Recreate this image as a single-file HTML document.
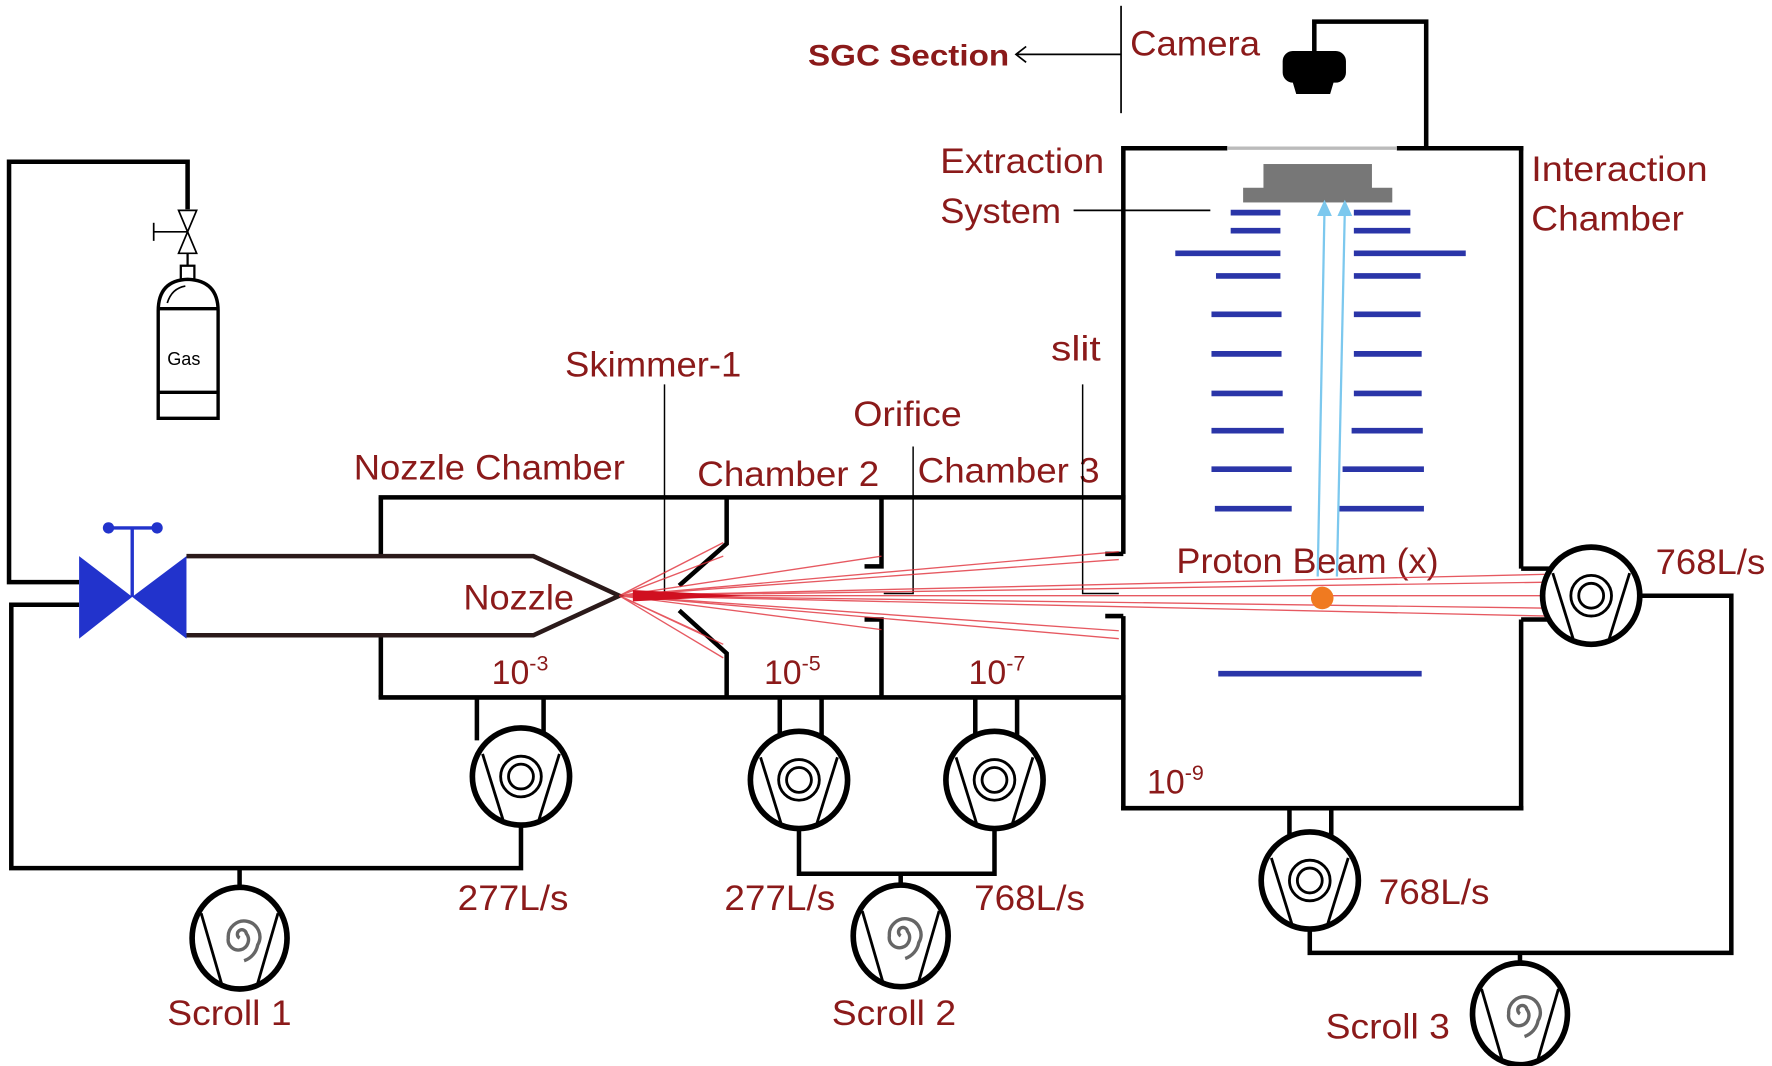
<!DOCTYPE html>
<html><head><meta charset="utf-8"><style>
html,body{margin:0;padding:0;background:#fff;}
svg{display:block;}
text{font-family:"Liberation Sans",sans-serif;fill:#8b1a1a;}
</style></head><body>
<svg width="1772" height="1066" viewBox="0 0 1568 943" xmlns="http://www.w3.org/2000/svg">
<defs>
<g id="turbo">
<circle r="43" fill="#fff" stroke="#000" stroke-width="5"/>
<line x1="-34" y1="-20" x2="-16" y2="38" stroke="#000" stroke-width="2.5"/>
<line x1="34" y1="-20" x2="16" y2="38" stroke="#000" stroke-width="2.5"/>
<circle r="18" fill="none" stroke="#000" stroke-width="2.5"/>
<circle r="11" fill="none" stroke="#000" stroke-width="2.5"/>
</g>
<g id="scroll">
<ellipse rx="42" ry="45" fill="#fff" stroke="#000" stroke-width="5"/>
<line x1="-34" y1="-22" x2="-16" y2="40" stroke="#000" stroke-width="2.5"/>
<line x1="34" y1="-22" x2="16" y2="40" stroke="#000" stroke-width="2.5"/>
<path d="M0,0 a4,4 0 1,1 6,-4 a9,9 0 1,1 -16,4 a14,14 0 1,1 26,6 a18,18 0 0,1 -12,14" fill="none" stroke="#666" stroke-width="3"/>
</g>
</defs>
<g lengthAdjust="spacingAndGlyphs">
<text x="715" y="58" font-size="26" font-weight="bold" textLength="178" lengthAdjust="spacingAndGlyphs">SGC Section</text>
<text x="1000" y="49" font-size="31" textLength="115" lengthAdjust="spacingAndGlyphs">Camera</text>
<text x="832" y="153" font-size="31" textLength="145" lengthAdjust="spacingAndGlyphs">Extraction</text>
<text x="832" y="197" font-size="31" textLength="107" lengthAdjust="spacingAndGlyphs">System</text>
<text x="1355" y="160" font-size="31" textLength="156" lengthAdjust="spacingAndGlyphs">Interaction</text>
<text x="1355" y="204" font-size="31" textLength="135" lengthAdjust="spacingAndGlyphs">Chamber</text>
<text x="1041" y="507" font-size="31" textLength="232" lengthAdjust="spacingAndGlyphs">Proton Beam (x)</text>
<text x="313" y="424" font-size="31" textLength="240" lengthAdjust="spacingAndGlyphs">Nozzle Chamber</text>
<text x="617" y="430" font-size="31" textLength="161" lengthAdjust="spacingAndGlyphs">Chamber 2</text>
<text x="812" y="427" font-size="31" textLength="161" lengthAdjust="spacingAndGlyphs">Chamber 3</text>
<text x="755" y="377" font-size="31" textLength="96" lengthAdjust="spacingAndGlyphs">Orifice</text>
<text x="500" y="333" font-size="31" textLength="156" lengthAdjust="spacingAndGlyphs">Skimmer-1</text>
<text x="930" y="319" font-size="31" textLength="44" lengthAdjust="spacingAndGlyphs">slit</text>
<text x="410" y="539" font-size="31" textLength="98" lengthAdjust="spacingAndGlyphs">Nozzle</text>
<text x="1465" y="508" font-size="31" textLength="97" lengthAdjust="spacingAndGlyphs">768L/s</text>
<text x="405" y="805" font-size="31" textLength="98" lengthAdjust="spacingAndGlyphs">277L/s</text>
<text x="641" y="805" font-size="31" textLength="98" lengthAdjust="spacingAndGlyphs">277L/s</text>
<text x="862" y="805" font-size="31" textLength="98" lengthAdjust="spacingAndGlyphs">768L/s</text>
<text x="1220" y="800" font-size="31" textLength="98" lengthAdjust="spacingAndGlyphs">768L/s</text>
<text x="148" y="907" font-size="31" textLength="110" lengthAdjust="spacingAndGlyphs">Scroll 1</text>
<text x="736" y="907" font-size="31" textLength="110" lengthAdjust="spacingAndGlyphs">Scroll 2</text>
<text x="1173" y="919" font-size="31" textLength="110" lengthAdjust="spacingAndGlyphs">Scroll 3</text>
</g>
<text x="435" y="605" font-size="30">10<tspan font-size="19" dy="-12">-3</tspan></text>
<text x="676" y="605" font-size="30">10<tspan font-size="19" dy="-12">-5</tspan></text>
<text x="857" y="605" font-size="30">10<tspan font-size="19" dy="-12">-7</tspan></text>
<text x="1015" y="702" font-size="30">10<tspan font-size="19" dy="-12">-9</tspan></text>

<line x1="992" y1="48" x2="900" y2="48" stroke="#000" stroke-width="1.5"/>
<path d="M908,41 L899,48 L908,55" fill="none" stroke="#000" stroke-width="1.5"/>
<line x1="992" y1="5" x2="992" y2="100" stroke="#000" stroke-width="1.5"/>
<path d="M1163,50 V19 H1262 V130" fill="none" stroke="#000" stroke-width="4"/>
<path d="M1144,45 h38 a9,9 0 0 1 9,9 v10 a9,9 0 0 1 -9,9 h-2 l-3,10 h-30 l-3,-10 h0 a9,9 0 0 1 -9,-9 v-10 a9,9 0 0 1 9,-9z" fill="#000"/>

<g stroke="#000" stroke-width="4" fill="none">
<line x1="994" y1="131" x2="1086" y2="131"/>
<line x1="1236" y1="131" x2="1348" y2="131"/>
<line x1="994" y1="129" x2="994" y2="490"/>
<line x1="994" y1="545" x2="994" y2="717"/>
<line x1="992" y1="715" x2="1348" y2="715"/>
<line x1="1346" y1="129" x2="1346" y2="503"/>
<line x1="1346" y1="548" x2="1346" y2="717"/>
<line x1="1346" y1="503" x2="1372" y2="503"/>
<line x1="1346" y1="548" x2="1372" y2="548"/>
<line x1="978" y1="490" x2="994" y2="490"/>
<line x1="978" y1="545" x2="994" y2="545"/>
</g>
<line x1="1086" y1="131" x2="1236" y2="131" stroke="#bbb" stroke-width="3"/>
<line x1="950" y1="186" x2="1071" y2="186" stroke="#000" stroke-width="1.5"/>
<rect x="1118" y="145" width="96" height="22" fill="#777"/>
<rect x="1100" y="166" width="132" height="13" fill="#777"/>
<g stroke="#2a35a8" stroke-width="5">
<line x1="1089" y1="188" x2="1133" y2="188"/><line x1="1198" y1="188" x2="1248" y2="188"/>
<line x1="1089" y1="204" x2="1133" y2="204"/><line x1="1198" y1="204" x2="1248" y2="204"/>
<line x1="1040" y1="224" x2="1133" y2="224"/><line x1="1198" y1="224" x2="1297" y2="224"/>
<line x1="1076" y1="244" x2="1133" y2="244"/><line x1="1198" y1="244" x2="1257" y2="244"/>
<line x1="1072" y1="278" x2="1134" y2="278"/><line x1="1198" y1="278" x2="1257" y2="278"/>
<line x1="1072" y1="313" x2="1134" y2="313"/><line x1="1198" y1="313" x2="1258" y2="313"/>
<line x1="1072" y1="348" x2="1135" y2="348"/><line x1="1198" y1="348" x2="1258" y2="348"/>
<line x1="1072" y1="381" x2="1136" y2="381"/><line x1="1196" y1="381" x2="1259" y2="381"/>
<line x1="1072" y1="415" x2="1143" y2="415"/><line x1="1188" y1="415" x2="1260" y2="415"/>
<line x1="1075" y1="450" x2="1143" y2="450"/><line x1="1185" y1="450" x2="1260" y2="450"/>
<line x1="1078" y1="596" x2="1258" y2="596"/>
</g>
<g stroke="#7cc8ee" stroke-width="2" fill="#7cc8ee">
<line x1="1166" y1="510" x2="1172" y2="186"/>
<line x1="1183" y1="510" x2="1190" y2="186"/>
<path d="M1167,190 L1172,179 L1177,190z"/>
<path d="M1185,190 L1190,179 L1195,190z"/>
</g>

<g stroke="#000" stroke-width="4" fill="none">
<line x1="335" y1="440" x2="996" y2="440"/>
<line x1="335" y1="617" x2="996" y2="617"/>
<line x1="337" y1="440" x2="337" y2="492"/>
<line x1="337" y1="562" x2="337" y2="617"/>
<path d="M165,492 H472 L548,527 L472,562 H165" stroke="#2b1a1a"/>
<path d="M643,440 V481 L601,518"/>
<path d="M601,540 L643,578 V617"/>
<path d="M780,440 V501 H765"/>
<path d="M765,548 H780 V617"/>
</g>
<g stroke="#000" stroke-width="1.3" fill="none">
<line x1="588" y1="340" x2="588" y2="530"/>
<path d="M808,395 V525 H782"/>
<path d="M958,340 V525 H990"/>
</g>
<g stroke="#e0303a" stroke-width="1.2" opacity="0.8">
<line x1="548" y1="527" x2="640" y2="480"/>
<line x1="548" y1="527" x2="640" y2="492"/>
<line x1="548" y1="527" x2="640" y2="570"/>
<line x1="548" y1="527" x2="640" y2="582"/>
<line x1="548" y1="527" x2="620" y2="560"/>
<line x1="548" y1="527" x2="990" y2="488"/>
<line x1="548" y1="527" x2="990" y2="495"/>
<line x1="548" y1="527" x2="990" y2="565"/>
<line x1="548" y1="527" x2="990" y2="558"/>
<line x1="548" y1="527" x2="780" y2="492"/>
<line x1="548" y1="527" x2="780" y2="557"/>
<line x1="548" y1="527" x2="1370" y2="508"/>
<line x1="548" y1="527" x2="1370" y2="515"/>
<line x1="548" y1="527" x2="1370" y2="538"/>
<line x1="548" y1="527" x2="1370" y2="545"/>
<line x1="548" y1="527" x2="1370" y2="527"/>
</g>
<path d="M560,522 L660,527 L560,532z" fill="#d01020"/>
<circle cx="1170" cy="529" r="10" fill="#f07a20"/>

<g stroke="#000" stroke-width="4" fill="none">
<path d="M422,617 V655 M481,617 V655"/>
<path d="M690,617 V660 M727,617 V660"/>
<path d="M863,617 V660 M900,617 V660"/>
<path d="M1141,715 V745 M1178,715 V745"/>
<path d="M461,730 V768 H10 V535 H70"/>
<path d="M70,515 H8 V143 H166 V185"/>
<path d="M212,768 V790"/>
<path d="M707,733 V773 H880 V733"/>
<path d="M797,773 V790"/>
<path d="M1159,822 V843 H1532 V527 H1450"/>
<path d="M1345,843 V860"/>
</g>
<use href="#turbo" x="461" y="687"/>
<use href="#turbo" x="707" y="690"/>
<use href="#turbo" x="880" y="690"/>
<use href="#turbo" x="1159" y="779"/>
<use href="#turbo" x="1408" y="527"/>
<use href="#scroll" x="212" y="830"/>
<use href="#scroll" x="797" y="828"/>
<use href="#scroll" x="1345" y="897"/>

<path d="M70,492 L117,528 L70,565z M165,492 L117,528 L165,565z" fill="#2233cc"/>
<line x1="117" y1="528" x2="117" y2="467" stroke="#2233cc" stroke-width="3"/>
<line x1="95" y1="467" x2="139" y2="467" stroke="#2233cc" stroke-width="3"/>
<circle cx="96" cy="467" r="5" fill="#2233cc"/><circle cx="139" cy="467" r="5" fill="#2233cc"/>

<path d="M158,186 L174,186 L158,224 L174,224z" fill="#fff" stroke="#000" stroke-width="1.5"/>
<line x1="136" y1="205" x2="166" y2="205" stroke="#000" stroke-width="1.5"/>
<line x1="136" y1="197" x2="136" y2="213" stroke="#000" stroke-width="1.5"/>
<line x1="166" y1="224" x2="166" y2="235" stroke="#000" stroke-width="2"/>
<rect x="160" y="235" width="12" height="12" fill="#fff" stroke="#000" stroke-width="2"/>
<path d="M140,370 V275 Q140,248 166,247 Q193,248 193,275 V370z" fill="#fff" stroke="#000" stroke-width="3"/>
<line x1="140" y1="273" x2="193" y2="273" stroke="#000" stroke-width="3"/>
<line x1="140" y1="347" x2="193" y2="347" stroke="#000" stroke-width="3"/>
<path d="M148,268 Q152,255 164,253" fill="none" stroke="#000" stroke-width="1.5"/>
<text x="148" y="323" font-size="16" style="fill:#000">Gas</text>
</svg>
</body></html>
